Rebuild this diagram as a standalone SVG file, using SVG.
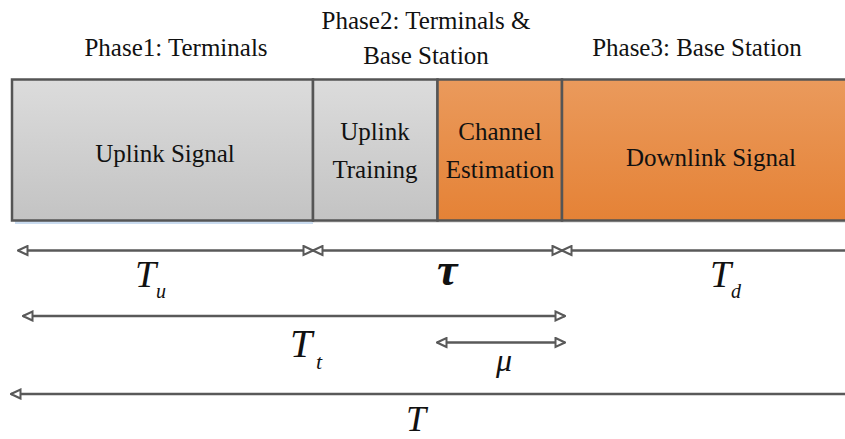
<svg xmlns="http://www.w3.org/2000/svg" width="845" height="439" viewBox="0 0 845 439">
  <defs>
    <linearGradient id="gGray" x1="0" y1="0" x2="0" y2="1">
      <stop offset="0" stop-color="#dcdcdc"/>
      <stop offset="1" stop-color="#c3c3c3"/>
    </linearGradient>
    <linearGradient id="gOrange" x1="0" y1="0" x2="0" y2="1">
      <stop offset="0" stop-color="#ea9a5c"/>
      <stop offset="1" stop-color="#e58236"/>
    </linearGradient>
    <marker id="tri" viewBox="0 0 12 12" refX="11" refY="6" markerWidth="12" markerHeight="12" markerUnits="userSpaceOnUse" orient="auto-start-reverse">
      <path d="M1.5,1.5 L11,6 L1.5,10.5 Z" fill="#ffffff" stroke="#595959" stroke-width="2" stroke-linejoin="miter"/>
    </marker>
    <style>
      .lbl { font-family: "Liberation Serif", "Times New Roman", serif; font-size: 25px; fill: #111; text-anchor: middle; }
      .math { font-family: "Liberation Serif", "Times New Roman", serif; font-style: italic; fill: #111; }
      .box { stroke: #555; stroke-width: 2.5; }
      .dim { stroke: #595959; stroke-width: 2.5; fill: none; }
    </style>
  </defs>

  <rect width="845" height="439" fill="#ffffff"/>

  <!-- phase headings -->
  <text class="lbl" x="176" y="56">Phase1: Terminals</text>
  <text class="lbl" x="426" y="29">Phase2: Terminals &amp;</text>
  <text class="lbl" x="426" y="64">Base Station</text>
  <text class="lbl" x="697" y="56">Phase3: Base Station</text>

  <!-- soft shadow under the frame -->
  <rect x="15" y="221" width="298" height="3" fill="#c9dbef"/>
  <rect x="313" y="221" width="535" height="2" fill="#e6e6e6"/>

  <!-- frame segments -->
  <g id="uplink-signal">
    <rect class="box" x="12" y="79.5" width="301" height="141" fill="url(#gGray)"/>
    <text class="lbl" x="165" y="162">Uplink Signal</text>
  </g>
  <g id="uplink-training">
    <rect class="box" x="313" y="79.5" width="124.5" height="141" fill="url(#gGray)"/>
    <text class="lbl" x="375" y="140">Uplink</text>
    <text class="lbl" x="375" y="178">Training</text>
  </g>
  <g id="channel-estimation">
    <rect class="box" x="437.5" y="79.5" width="124.5" height="141" fill="url(#gOrange)"/>
    <text class="lbl" x="500" y="140">Channel</text>
    <text class="lbl" x="500" y="178">Estimation</text>
  </g>
  <g id="downlink-signal">
    <rect class="box" x="562" y="79.5" width="300" height="141" fill="url(#gOrange)"/>
    <text class="lbl" x="711" y="166">Downlink Signal</text>
  </g>

  <!-- duration arrows -->
  <g id="connectors">
    <line class="dim" x1="18" y1="250.5" x2="313" y2="250.5" marker-start="url(#tri)" marker-end="url(#tri)"/>
    <line class="dim" x1="313" y1="250.5" x2="562" y2="250.5" marker-start="url(#tri)" marker-end="url(#tri)"/>
    <line class="dim" x1="562" y1="250.5" x2="850" y2="250.5" marker-start="url(#tri)"/>
    <line class="dim" x1="23" y1="316" x2="565" y2="316" marker-start="url(#tri)" marker-end="url(#tri)"/>
    <line class="dim" x1="437" y1="342.5" x2="565" y2="342.5" marker-start="url(#tri)" marker-end="url(#tri)"/>
    <line class="dim" x1="11" y1="394" x2="850" y2="394" marker-start="url(#tri)"/>
  </g>

  <!-- duration symbols -->
  <text class="math" x="135" y="287" font-size="38">T</text>
  <text class="math" x="156" y="298" font-size="20">u</text>

  <text class="math" x="437" y="285" font-size="46" font-weight="bold">τ</text>

  <text class="math" x="710" y="287" font-size="38">T</text>
  <text class="math" x="731" y="298" font-size="20">d</text>

  <text class="math" x="290" y="357" font-size="40">T</text>
  <text class="math" x="316" y="369" font-size="22">t</text>

  <text class="math" x="496" y="371" font-size="32">μ</text>

  <text class="math" x="406" y="431" font-size="36">T</text>
</svg>
